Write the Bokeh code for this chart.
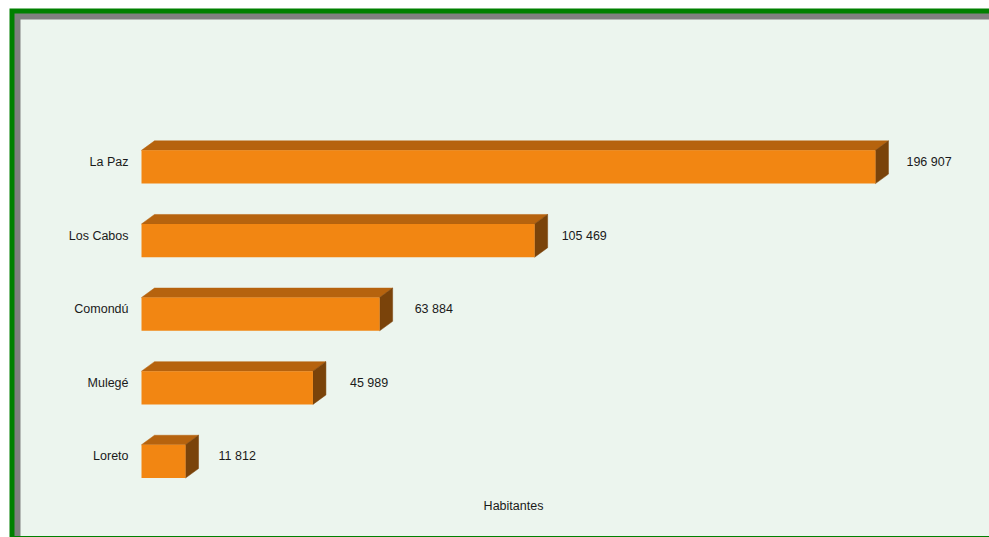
from bokeh.plotting import figure
from bokeh.models import Range1d, ColumnDataSource, Label
from bokeh.core.properties import value
from bokeh.embed import file_html
from bokeh.resources import INLINE

# ---- data ----
categories = ["La Paz", "Los Cabos", "Comondú", "Mulegé", "Loreto"]
values = [196907, 105469, 63884, 45989, 11812]
value_labels = ["196 907", "105 469", "63 884", "45 989", "11 812"]
axis_title = "Habitantes"

# ---- style (label gaps in pixels, as in the picture) ----
label_gaps = [31, 27, 35, 37, 33]

W, H = 989, 537
X_START, X_END = -37830, 227500
Y_START, Y_END = 5.034, -2.262   # rows go downward

def px2x(px):
    return X_START + px * (X_END - X_START) / W

def px2y(py):
    return Y_END + py * (Y_START - Y_END) / H

p = figure(width=W, height=H, output_backend="svg", toolbar_location=None,
           x_range=Range1d(X_START, X_END), y_range=Range1d(Y_START, Y_END),
           min_border=0, background_fill_color="white", border_fill_color="white")
p.axis.visible = False
p.grid.visible = False
p.outline_line_color = None

# frame decoration
p.quad(left=[px2x(9)], right=[px2x(W + 5)], top=[px2y(8)], bottom=[px2y(H + 5)],
       fill_color="#008000", line_color=None)
p.quad(left=[px2x(14)], right=[px2x(W + 5)], top=[px2y(13)], bottom=[px2y(535.5)],
       fill_color="#808080", line_color=None)
p.quad(left=[px2x(20)], right=[px2x(W + 5)], top=[px2y(19)], bottom=[px2y(535.5)],
       fill_color="#ECF5EE", line_color=None)

# 3D bars
half = 0.226
dx = 13 * (X_END - X_START) / W
dy = 9.5 * (Y_START - Y_END) / H
rows = list(range(len(categories)))

top_xs, top_ys, side_xs, side_ys = [], [], [], []
for i, v in zip(rows, values):
    yt, yb = i - half, i + half
    top_xs.append([0, dx, v + dx, v])
    top_ys.append([yt, yt - dy, yt - dy, yt])
    side_xs.append([v, v + dx, v + dx, v])
    side_ys.append([yt, yt - dy, yb - dy, yb])

p.patches(top_xs, top_ys, fill_color="#B6630E", line_color="#B6630E", line_width=0.5)
p.patches(side_xs, side_ys, fill_color="#7A430A", line_color="#7A430A", line_width=0.5)
p.quad(left=[0] * len(values), right=values,
       top=[i - half for i in rows], bottom=[i + half for i in rows],
       fill_color="#F28612", line_color=None)

src = ColumnDataSource(dict(y=rows, cat=categories, v=values, lab=value_labels,
                            zero=[0] * len(values), gap=label_gaps))
font = value("Liberation Sans")
p.text(x="zero", y="y", text="cat", source=src, x_offset=-13, y_offset=-5,
       text_align="right", text_baseline="middle", text_font=font,
       text_font_size="12.5px", text_color="#1A1A1A")
p.text(x="v", y="y", text="lab", source=src, x_offset="gap", y_offset=-5,
       text_align="left", text_baseline="middle", text_font=font,
       text_font_size="12.5px", text_color="#1A1A1A")

p.add_layout(Label(x=px2x(513), y=px2y(505), text=axis_title, text_align="center",
                   text_baseline="middle", text_font="Liberation Sans",
                   text_font_size="12.5px", text_color="#1A1A1A"))

open("out.html", "w").write(file_html(p, INLINE))
